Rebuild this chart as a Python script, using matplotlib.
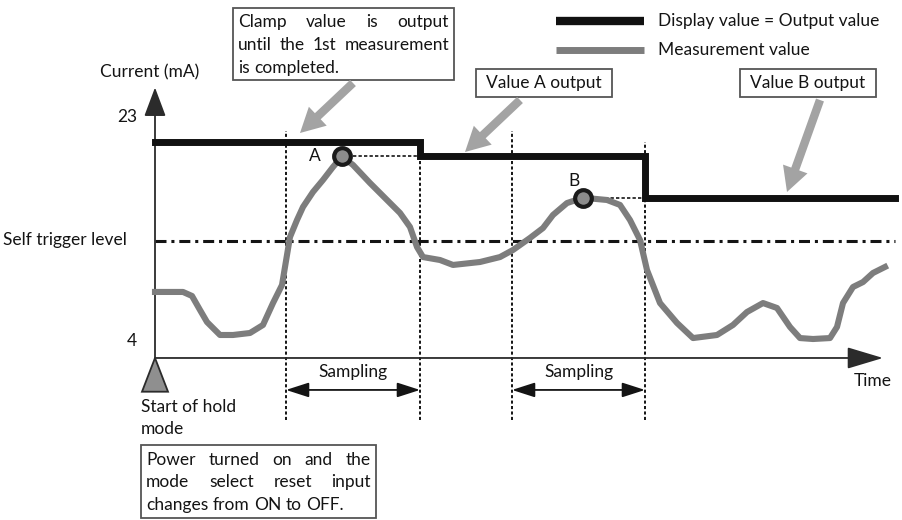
import matplotlib
matplotlib.use("Agg")
import matplotlib.pyplot as plt
from matplotlib.patches import Rectangle, Polygon, FancyArrowPatch

plt.rcParams['font.family'] = ['Lato', 'DejaVu Sans']

# measurement curve (time units from hold start, current in mA)
meas_t = [0, 28, 37, 45, 52, 65, 78, 95, 108, 118, 127, 130, 135, 142, 148, 158, 168, 178,
          187, 198, 215, 232, 245, 255, 262, 268, 285, 298, 325, 345, 358, 375, 388, 398,
          412, 428, 452, 465, 475, 485, 492, 505, 522, 538, 562, 578, 592, 608, 622, 635,
          645, 658, 675, 682, 688, 698, 708, 718, 730]
meas_v = [8.16, 8.16, 7.82, 6.63, 5.61, 4.51, 4.51, 4.68, 5.36, 7.22, 8.75, 10.28, 12.82,
          14.26, 15.37, 16.64, 17.66, 18.76, 19.65, 18.93, 17.40, 15.96, 14.86, 13.67, 11.97,
          11.12, 10.87, 10.45, 10.70, 11.12, 11.72, 12.74, 13.58, 14.69, 15.70, 16.15, 15.96,
          15.54, 14.26, 12.57, 10.02, 7.22, 5.53, 4.25, 4.51, 5.36, 6.46, 7.22, 6.80, 5.19,
          4.25, 4.17, 4.25, 5.19, 7.22, 8.58, 9.00, 9.77, 10.28]

# display / output value (step)
disp_t = [0, 265, 265, 490, 490, 740]
disp_v = [20.88, 20.88, 19.65, 19.65, 16.15, 16.15]

trigger = 12.48
sample_windows = [(131, 265), (357, 490)]
peak_a = (187, 19.65)
peak_b = (428, 16.15)
y_ticks = [23, 4]

W, H = 902, 520
fig = plt.figure(figsize=(W / 100, H / 100), dpi=100)
ax = fig.add_axes([0, 0, 1, 1])
ax.set_xlim(-155, 747)
ax.set_ylim(-11.18, 32.92)
ax.axis('off')

ink = '#141414'
dark = '#2b2b2b'
curve_gray = '#7d7d7d'
arrow_gray = '#a3a3a3'
fs = 12.5


def fx(x):
    return x / W


def fy(y):
    return 1 - y / H


# axes with arrows
x_base = 2.56
ax.annotate('', xy=(0, 25.5), xytext=(0, x_base),
            arrowprops=dict(arrowstyle='-|>,head_length=1.2,head_width=0.45', color=dark, lw=1.3,
                            mutation_scale=15, shrinkA=0, shrinkB=0))
ax.annotate('', xy=(728, x_base), xytext=(0, x_base),
            arrowprops=dict(arrowstyle='-|>,head_length=1.5,head_width=0.45', color=dark, lw=1.3,
                            mutation_scale=15, shrinkA=0, shrinkB=0))

# trigger level
ax.plot([0, 740], [trigger, trigger], color=ink, lw=2.2,
        dashes=(3.6, 1.6, 1.0, 1.6), solid_capstyle='butt')

# sampling windows
for t0, t1 in sample_windows:
    for t in (t0, t1):
        ax.plot([t, t], [-2.7, 21.8 if t == t0 else 20.9], color=ink, lw=1.4,
                dashes=(1.6, 1.2))
    ax.annotate('', xy=(t1, -0.15), xytext=(t0, -0.15),
                arrowprops=dict(arrowstyle='<|-|>,head_length=1.4,head_width=0.45', color=ink,
                                lw=1.3, mutation_scale=10, shrinkA=0, shrinkB=0))
    ax.text((t0 + t1) / 2, 1.35, 'Sampling', ha='center', va='center', fontsize=fs,
            color=ink)

# peak hold dashed lines
ax.plot([peak_a[0], disp_t[1]], [peak_a[1], peak_a[1]], color=ink, lw=1.2, dashes=(2, 1.3))
ax.plot([peak_b[0], disp_t[3]], [peak_b[1], peak_b[1]], color=ink, lw=1.2, dashes=(2, 1.3))

# curves
ax.plot(meas_t, meas_v, color=curve_gray, lw=4.4, solid_joinstyle='round', zorder=3)
ax.plot(disp_t, disp_v, color='#111111', lw=5, solid_joinstyle='miter', zorder=4)

for (t, v), lab, dx, dy in [(peak_a, 'A', -27, 0), (peak_b, 'B', -9, 1.4)]:
    ax.plot(t, v, 'o', ms=12, mfc='#8c8c8c', mec='#1a1a1a', mew=3, zorder=5)
    ax.text(t + dx, v + dy, lab, ha='center', va='center', fontsize=fs, color=ink)

# tick labels
for v in y_ticks:
    ax.text(-18, v, str(v), ha='right', va='center', fontsize=fs, color=ink)

fig.text(fx(150), fy(72), 'Current (mA)', ha='center', va='center', fontsize=fs, color=ink)
fig.text(fx(3), fy(240), 'Self trigger level', ha='left', va='center', fontsize=fs, color=ink)
fig.text(fx(892), fy(381), 'Time', ha='right', va='center', fontsize=fs, color=ink)
fig.text(fx(141), fy(407), 'Start of hold', ha='left', va='center', fontsize=fs, color=ink)
fig.text(fx(141), fy(429), 'mode', ha='left', va='center', fontsize=fs, color=ink)

# start triangle
ax.add_patch(Polygon([(0, x_base), (-13, -0.3), (13, -0.3)], closed=True,
                     facecolor='#8f8f8f', edgecolor=dark, lw=1.3, zorder=5))

# legend
fig.add_artist(plt.Line2D([fx(556), fx(644)], [fy(21), fy(21)], color='#111111', lw=6,
                          solid_capstyle='butt'))
fig.add_artist(plt.Line2D([fx(556), fx(644)], [fy(50), fy(50)], color=curve_gray, lw=5,
                          solid_capstyle='butt'))
fig.text(fx(658), fy(21), 'Display value = Output value', ha='left', va='center', fontsize=fs,
         color=ink)
fig.text(fx(658), fy(50), 'Measurement value', ha='left', va='center', fontsize=fs, color=ink)

renderer = fig.canvas.get_renderer()


def box(x0, y0, x1, y1):
    fig.add_artist(Rectangle((fx(x0), fy(y1)), (x1 - x0) / W, (y1 - y0) / H,
                             transform=fig.transFigure, facecolor='white', edgecolor='#555555',
                             lw=1.3))


def justified(lines, x0, x1, ys):
    for i, (line, y) in enumerate(zip(lines, ys)):
        words = line.split()
        arts = [fig.text(0, fy(y), w, ha='left', va='center', fontsize=fs, color=ink)
                for w in words]
        widths = [a.get_window_extent(renderer).width for a in arts]
        if i < len(lines) - 1 and len(words) > 1:
            gap = (x1 - x0 - sum(widths)) / (len(words) - 1)
        else:
            sp = fig.text(0, 0, 'a a', fontsize=fs)
            aa = fig.text(0, 0, 'aa', fontsize=fs)
            gap = sp.get_window_extent(renderer).width - aa.get_window_extent(renderer).width
            sp.remove()
            aa.remove()
        x = x0
        for a, wd in zip(arts, widths):
            a.set_x(fx(x))
            x += wd + gap


box(233, 8, 454, 80)
justified(['Clamp value is output', 'until the 1st measurement', 'is completed.'],
          238, 449, [22, 45, 68])

box(141, 445, 376, 518)
justified(['Power turned on and the', 'mode select reset input', 'changes from ON to OFF.'],
          146, 371, [460, 482, 505])

box(476, 69, 612, 97)
fig.text(fx(544), fy(83), 'Value A output', ha='center', va='center', fontsize=fs, color=ink)
box(740, 69, 876, 97)
fig.text(fx(808), fy(83), 'Value B output', ha='center', va='center', fontsize=fs, color=ink)

# callout arrows
for tail, tip in [((353, 83), (300, 133)), ((520, 100), (465, 152)), ((820, 100), (787, 192))]:
    fig.add_artist(FancyArrowPatch(
        (fx(tail[0]), fy(tail[1])), (fx(tip[0]), fy(tip[1])), transform=fig.transFigure,
        arrowstyle='simple,head_length=1.6,head_width=1.7,tail_width=0.55', mutation_scale=11,
        color=arrow_gray, lw=0, shrinkA=0, shrinkB=0))

fig.savefig('out.png', dpi=100)
